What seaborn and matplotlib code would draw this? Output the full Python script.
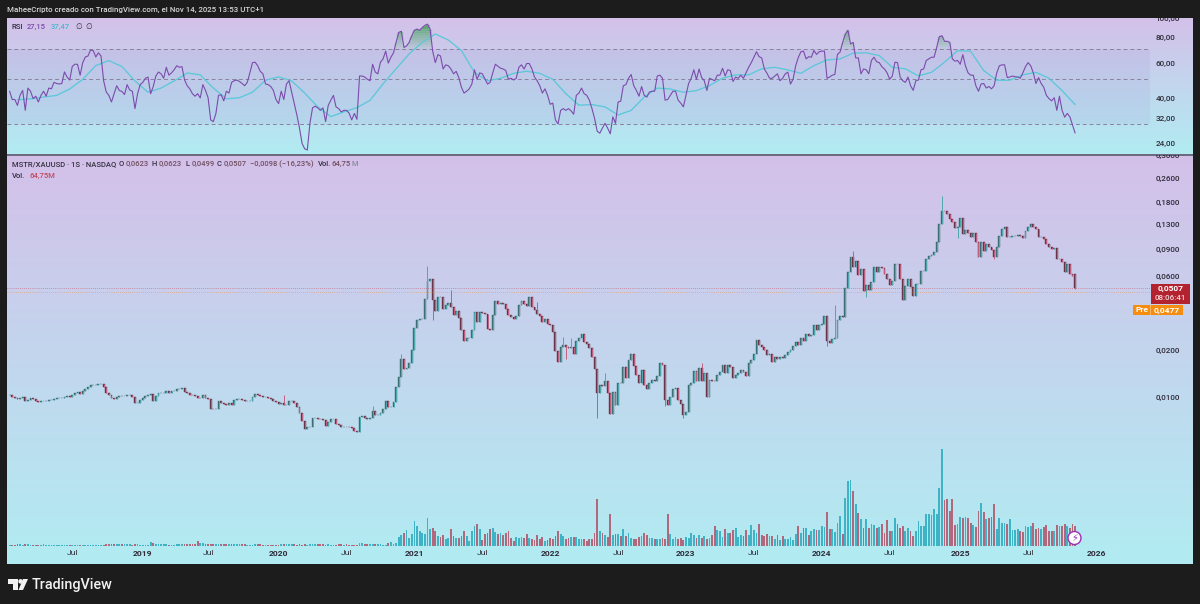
import numpy as np
import pandas as pd
import matplotlib
matplotlib.use('Agg')
import matplotlib.pyplot as plt
import seaborn as sns
from matplotlib.patches import Rectangle, Ellipse, Polygon
from matplotlib.ticker import NullLocator

# weekly closes of MSTR/XAUUSD
closes = [
    .01025,.01005,.00985,.00966,.00985,.01005,.00947,.00957,.00985,.00966,
    .00947,.00929,.00938,.00947,.00947,.00957,.00957,.00966,.00980,.00985,
    .00985,.01005,.01015,.00995,.01035,.01056,.01077,.01045,.01087,.01131,
    .01165,.01189,.01189,.01200,.01212,.01212,.01153,.01066,.01025,.00985,
    .00976,.01005,.01015,.01010,.01015,.01025,.01035,.01005,.00911,.00920,.00957,
    .00985,.01015,.01035,.01045,.00938,.01015,.01056,.01056,.01066,.01098,
    .01066,.01087,.01087,.01120,.01131,.01142,.01077,.01056,.01035,.01025,
    .01015,.00985,.00985,.01035,.00985,.00966,.00841,.00833,.00841,.00938,
    .00911,.00902,.00893,.00911,.00893,.00957,.00966,.00966,.00957,.00947,
    .00947,.00947,.00995,.01045,.01035,.01015,.01005,.01005,.00985,.00966,.00947,
    .00929,.00902,.00911,.00893,.00893,.00938,.00947,.00920,.00858,.00793,
    .00697,.00620,.00644,.00644,.00732,.00732,.00725,.00718,.00711,.00651,
    .00690,.00718,.00718,.00670,.00657,.00644,.00644,.00640,.00638,.00632,.00607,
    .00595,.00747,.00755,.00732,.00718,.00730,.00809,.00762,.00762,.00785,
    .00841,.00938,.00858,.00858,.00933,.01165,.0135,
    .0175,.0151,.0155,.0167,.0201,.0281,.0313,.0321,.0321,.0431,
    .0558,.0580,.0421,.0358,.0446,.0442,.0372,.0396,.0407,.0381,
    .0337,.0362,.0326,.0273,.0230,.0239,.0242,.0270,.0354,.0305,
    .0354,.0348,.0342,.0274,.0270,.0337,.0415,.0400,.0405,.0400,.0372,
    .0337,.0329,.0321,.0332,.0396,.0417,.0400,.0390,.0442,.0381,
    .0367,.0345,.0332,.0305,.0321,.0298,.0291,.0263,.0199,.0169,
    .0211,.0218,.0211,.0206,.0211,.0191,.0230,.0239,.0257,.0227,
    .0221,.0206,.0182,.0151,.0106,.0119,.0117,.0126,.0106,.0078,
    .0108,.0089,.0124,.0123,.0157,.0132,.0173,.0191,.0158,.0139,
    .0124,.0149,.0119,.0112,.0124,.0129,.0126,.0137,.0166,.0161,
    .0096,.0089,.0100,.0112,.0114,.0096,.0090,.0076,.0080,.0119,
    .0123,.0148,.0126,.0153,.0126,.0142,.0100,.0129,.0127,.0126,.0139,
    .0146,.0161,.0142,.0161,.0157,.0132,.0139,.0142,.0149,.0146,
    .0137,.0165,.0173,.0191,.0233,.0216,.0211,.0200,.0186,.0191,.0169,
    .0180,.0175,.0180,
    .0178,.0186,.0195,.0201,.0213,.0226,.0216,.0240,
    .0231,.0254,.0248,.0250,.0291,.0270,.0291,.0295,.0332,.0231,
    .0224,.0236,.0241,.0313,.0336,.0329,.0508,.0640,.0806,.0690,
    .0752,.0610,.0672,.0481,.0526,.0493,.0552,.0696,.0640,.0696,
    .0682,.0625,.0580,.0526,.0566,.0725,.0719,.0580,.0421,.0518,
    .0580,.0512,.0447,.0538,.0538,.0650,.0656,.0780,.0818,.0832,
    .0861,.1002,.1312,.1600,.1593,.1522,.1410,.1347,.1236,.1257,
    .1433,.1133,.1201,.1143,.1075,.1143,.1002,.0806,.1002,.0882,
    .0974,.0926,.0892,.0800,.0936,.1090,.1215,.1257,.1085,.1085,
    .1101,.1105,.1112,.1090,.1065,.1189,.1257,.1312,.1257,.1215,.1075,
    .1075,.1050,.0974,.0926,.0904,.0917,.0780,.0780,.0742,.0640,
    .0719,.0625,.0605,.0507,
]

# only the wicks that stick out enough to see: week number -> price
wick_highs = {105: .0103, 139: .00875, 150: .0191, 160: .0700, 169: .0493, 202: .0411,
              212: .0246, 215: .0239, 228: .0143, 265: .0165, 316: .0391, 323: .0882,
              357: .199, 408: .0623}
wick_lows = {162: .0313, 213: .0175, 225: .0073, 251: .0087, 258: .0073, 313: .0213,
             328: .0443, 363: .1065, 371: .0800, 377: .0775, 408: .0499}
last_open = .0623

# RSI
rsi_values = [
    43.6,39.7,39.7,37.1,41.6,44,35.1,45.2,43.6,40.1,
    41.2,38.6,41.6,43.6,41.2,45.2,44.8,48.2,47.6,47.3,
    47.6,54.3,51.2,49.5,57.8,59.2,59.2,52.3,60.3,64.3,
    65,69.5,69.2,64.3,67.4,65,49.1,43.2,41.6,38.6,
    42.4,46.4,44,43.5,42,47,44.2,43.6,35.8,42.4,47,
    48.2,50.5,51.2,42.4,46,51.8,54.2,53.1,50.5,57.2,
    52.3,53.7,55.6,58.2,57.2,57.6,49.5,46.4,44.8,42.4,
    41.2,42.4,40.4,47,44,40.5,31.5,30.9,33.9,41.6,
    41.9,39.1,43.6,42.7,48.2,49.1,49.5,48.7,47.6,46.4,
    48.2,53.7,60.3,60.6,58.2,54.6,53.1,47.3,47,46,44,
    39.7,37.9,43.6,39.7,47.3,49.1,43.2,37.9,33.3,28.7,
    24.1,22.7,22.4,30.3,36.1,36.8,36.1,35.1,36.1,30.9,
    37.1,39.4,41.6,36.5,35.8,34.5,35.1,35.1,34,31.5,33.9,
    31.7,51.8,51.8,51.2,49.9,49.1,59.2,54.2,53.1,60.6,
    62.9,68.7,60,64.1,67.4,75.9,84.9,
    86,71.6,72.9,75.9,81.8,87,88.2,87,89.7,92,
    93.3,88.2,68.7,60.3,66,65,56.1,58.8,58.2,56.1,
    53.1,54.6,50.9,45.6,42.7,43.6,44.8,47.3,55.6,49.9,
    53.7,53.1,50.2,47.3,48.2,53.7,59.2,57.8,56.6,56.1,55.1,
    49.9,50.5,49.5,50.5,57.2,58.8,56.1,59.7,59.7,56.1,
    51.2,49.1,46.4,42.7,44.8,41.6,37.6,38.1,31.5,30.1,
    35.1,35.8,35.1,35.8,34.9,33.6,41.6,42.7,45.2,42.4,
    41.6,39.4,35.8,32,27.7,27.1,28.7,30.3,28.7,26.9,
    32.6,30.3,38.6,38.9,46.4,47,50.5,52.7,46.4,44,
    41.2,46,41.6,40.8,43.2,43.6,43.6,51.8,52.3,50.5,
    39.4,39.7,41.6,43.6,43.6,39.4,38.1,36.5,41.6,47.6,
    50.5,55.6,49.9,56.1,50.9,49.1,44,50.5,49.8,49.1,52.3,
    52.3,56.6,51.8,55.6,55.1,48.7,51.2,50.5,52.3,50.5,
    53.7,57.2,60.3,64.1,68.2,64.5,63.6,56.1,53.5,50.5,50.5,
    51.8,53.1,49.1,
    50.5,53.1,54.1,47.3,49.9,58.2,63.9,68.2,
    68.7,62.9,64.5,64.1,69.2,66.2,68.2,68.7,68.7,50.5,
    51.2,52.3,52.7,66.2,68,75.9,83.3,87,74.5,75.9,
    63.6,63.6,53.1,56.1,55.6,53.1,61.8,64.1,60.9,60.3,
    57.6,56.1,53.7,49.9,51.8,60.6,60.3,51.2,49.1,48.2,
    51.2,46.4,44,49.1,49.5,55.6,56.1,61.8,62.9,64.1,
    64.1,71.6,80.9,81.8,76.8,76.8,75.9,62.9,61.3,61.8,
    59.2,66,58.2,53.7,52.3,52.3,46.4,43.6,47.3,47.6,
    45.2,46,44.8,46.4,53.7,58.2,58.8,58.8,50.9,51.2,
    51.8,51.4,51.2,50.5,53.7,57.6,60.3,58.2,53.7,47.6,50.9,
    47.6,45.6,41.6,40.1,39.1,40.5,35.1,41.2,35.1,32.5,
    33.9,32.6,29.8,27.15,
]

# RSI moving average, read every fifth week counted back from the last one
rsi_ma_values = [
    39.6,40,40.8,41.6,44.7,49.9,58.3,61.7,57.7,49,
    43.1,45.2,49,53.6,52.5,45.2,40,40.5,43.1,49.4,
    51.3,49,42.7,36.5,32.7,34.5,36.2,39.3,47.4,56.2,
    66.6,75.9,83.4,77.9,69.1,54,49,50.5,53.4,54.7,
    53.4,49.9,42.4,37.2,37.5,36.5,33.3,35.1,40.8,45.2,
    44.7,43.1,43.9,46.5,50.5,52.5,52.5,56.2,57.2,55.5,
    53.4,58.3,62.2,62.9,67.1,67.4,65.3,57.2,56.2,51.9,
    54,60.6,69.1,68.6,55.1,49.4,49.4,52.5,54,50.5,
    43.9,37.47,
]

# volume in millions
volumes = [
    4,3,4,5,5,3,6,7,4,4,
    3,4,4,5,4,4,3,3,4,3,
    4,3,3,4,3,3,2,2,2,4,
    4,4,3,3,3,3,4,5,5,5,
    5,6,7,6,6,5,5,4,5,5,4,
    4,4,4,13,9,8,7,6,7,5,
    4,3,4,7,5,5,6,5,5,7,
    6,15,10,9,8,6,5,7,8,7,
    7,6,6,7,7,6,6,6,5,6,
    4,4,4,6,5,5,3,4,3,4,3,
    3,3,5,6,7,8,8,7,4,5,
    4,5,4,5,5,5,6,6,5,4,
    5,4,4,4,5,5,3,5,4,3,3,
    4,9,9,7,5,6,5,8,7,6,
    4,4,11,13,6,11,30,
    37,43,52,27,38,81,65,49,41,38,
    92,54,59,49,32,30,35,22,27,54,
    32,26,27,32,49,32,16,49,65,70,
    54,19,39,41,54,57,45,39,41,36,
    43,50,27,16,30,26,30,27,38,27,
    24,19,36,22,28,16,19,26,22,32,
    49,38,32,22,26,30,30,30,24,22,
    24,16,22,24,41,151,49,43,36,30,
    103,36,39,38,32,54,32,41,26,22,
    24,30,32,43,36,26,25,24,22,24,26,
    24,103,38,24,30,24,27,19,30,26,
    41,37,27,35,26,32,22,27,37,65,
    52,49,30,54,43,41,52,57,30,36,
    32,52,36,67,52,43,70,36,32,38,
    32,32,24,36,19,
    32,24,24,30,19,38,65,43,
    59,59,35,49,56,52,52,65,63,110,
    54,54,45,76,97,38,157,211,213,178,
    135,106,89,59,89,59,70,67,59,63,
    70,43,84,49,49,92,70,59,65,49,
    59,49,32,49,81,65,65,103,105,99,
    121,103,189,313,149,151,113,153,67,70,
    95,92,95,92,73,67,60,113,138,110,
    89,92,95,137,56,92,73,76,70,86,
    51,52,54,48,45,65,63,65,73,54,
    59,54,63,67,49,49,49,67,65,65,
    71,65,59,70,64.75,
]

rsi_ticks = [100, 80, 60, 40, 32, 24]
rsi_tick_labels = ['100,00', '80,00', '60,00', '40,00', '32,00', '24,00']
rsi_levels = [70, 50, 30]
price_ticks = [.366, .26, .18, .13, .09, .06, .02, .01]
price_tick_labels = ['0,3000', '0,2600', '0,1800', '0,1300', '0,0900', '0,0600', '0,0200', '0,0100']
date_ticks = ['2018-07-02', '2019-01-07', '2019-07-01', '2020-01-06', '2020-07-06', '2021-01-04',
              '2021-07-05', '2022-01-03', '2022-07-04', '2023-01-02', '2023-07-03', '2024-01-01',
              '2024-07-01', '2025-01-06', '2025-07-07', '2026-01-05']
date_tick_labels = ['Jul', '2019', 'Jul', '2020', 'Jul', '2021', 'Jul', '2022', 'Jul', '2023', 'Jul',
                    '2024', 'Jul', '2025', 'Jul', '2026']
last_close = .0507
pre_price = .0477

dates = pd.date_range(end='2025-11-10', periods=len(closes), freq='7D')
df = pd.DataFrame({'date': dates, 'close': closes, 'rsi': rsi_values, 'vol': volumes})
df['open'] = df['close'].shift(1).fillna(df['close'])
df.loc[df.index[-1], 'open'] = last_open
df['high'] = df[['open', 'close']].max(axis=1)
df['low'] = df[['open', 'close']].min(axis=1)
for i, v in wick_highs.items():
    df.loc[i, 'high'] = v
for i, v in wick_lows.items():
    df.loc[i, 'low'] = v
up = df['close'] >= df['open']
ma_dates = dates[::-5][::-1]

sns.set_theme(style='white')
plt.rcParams['font.family'] = ['Roboto', 'DejaVu Sans']

W, H = 1200, 604
fig = plt.figure(figsize=(12, 6.04), dpi=100, facecolor='#1c1c1c')


def box(x0, y0, x1, y1):
    return [x0 / W, 1 - y1 / H, (x1 - x0) / W, (y1 - y0) / H]


def label(x, y, s, color='#33303f', size=5.5, **kw):
    kw.setdefault('fontweight', 'medium')
    fig.text(x / W, 1 - y / H, s, color=color, fontsize=size, va='center', **kw)


def rect(x0, y0, x1, y1, color):
    fig.add_artist(Rectangle((x0 / W, 1 - y1 / H), (x1 - x0) / W, (y1 - y0) / H, transform=fig.transFigure,
                             facecolor=color, edgecolor='none', zorder=2))


# pane backgrounds
grad = np.linspace(0, 1, 256)[:, None]
top_col = np.array([212, 192, 233]) / 255
bot_col = np.array([177, 236, 242]) / 255
grad_img = (top_col * (1 - grad) + bot_col * grad)[:, None, :]
for pane in [box(7, 18, 1193, 154), box(7, 155, 1193, 564)]:
    bg = fig.add_axes(pane, zorder=0)
    bg.imshow(grad_img, aspect='auto')
    bg.axis('off')

x_left = dates[-1] - pd.Timedelta(days=2863)
x_right = dates[-1] + pd.Timedelta(days=316)
band_end = (1150 - 7) / (1193 - 7)

# RSI pane
ax_rsi = fig.add_axes(box(7, 18, 1193, 154), zorder=3, facecolor='none')
ax_rsi.set_yscale('log')
ax_rsi.axhspan(30, 70, xmin=0, xmax=band_end, color='#7e57c2', alpha=0.08, lw=0)
for lev in rsi_levels:
    ax_rsi.axhline(lev, xmin=0, xmax=band_end, color='#8a829c', lw=0.7, ls=(0, (4, 3)))
rsi_arr = df['rsi'].to_numpy()
# green fill over 70, getting stronger towards the top
for lo, a in zip(np.arange(70, 94, 2), np.linspace(0.08, 0.8, 12)):
    ax_rsi.fill_between(dates, lo, np.clip(rsi_arr, lo, lo + 2), where=rsi_arr > lo, color='#2fa04a',
                        alpha=a, lw=0, interpolate=True)
sns.lineplot(x=ma_dates, y=rsi_ma_values, ax=ax_rsi, color='#5cc8da', lw=0.95, errorbar=None)
sns.lineplot(data=df, x='date', y='rsi', ax=ax_rsi, color='#7c4bab', lw=0.8, errorbar=None)
ax_rsi.set_xlim(x_left, x_right)
ax_rsi.set_ylim(21.4, 99.1)
ax_rsi.set_xticks([])
ax_rsi.set_xlabel('')
ax_rsi.set_ylabel('')
ax_rsi.yaxis.tick_right()
ax_rsi.yaxis.set_minor_locator(NullLocator())
ax_rsi.set_yticks(rsi_ticks)
ax_rsi.set_yticklabels(rsi_tick_labels)
ax_rsi.tick_params(axis='y', length=0, pad=-27, labelsize=5.9, labelcolor='#2f2c3a')
for t in ax_rsi.get_yticklabels():
    t.set_clip_on(True)
    t.set_clip_box(ax_rsi.bbox)
    t.set_fontweight('medium')
sns.despine(ax=ax_rsi, left=True, bottom=True, right=True, top=True)

# volume goes under the candles, on its own scale
ax_vol = fig.add_axes(box(7, 155, 1193, 564), zorder=1, facecolor='none')
ax_vol.bar(df['date'], df['vol'], width=4.8, color=np.where(up, '#3fb3c6', '#b0697c'), lw=0)
ax_vol.set_xlim(x_left, x_right)
ax_vol.set_ylim(-58.3, 1267)
ax_vol.axis('off')

# price pane
ax = fig.add_axes(box(7, 155, 1193, 564), zorder=2, facecolor='none')
ax.set_yscale('log')
ax.axhline(last_close, xmin=0, xmax=band_end, color='#c4323f', lw=0.5, alpha=0.8, ls=(0, (1, 2)))
ax.axhline(pre_price, xmin=0, xmax=band_end, color='#f28c28', lw=0.5, alpha=0.8, ls=(0, (1, 2)))
ax.vlines(df['date'], df['low'], df['high'], colors=np.where(up, '#4fa9af', '#c0607e'), lw=0.7)
body_lo = df[['open', 'close']].min(axis=1)
body_hi = df[['open', 'close']].max(axis=1)
body_col = np.where(up, '#3a6f74', '#6b3348')
ax.bar(df['date'], body_hi - body_lo, bottom=body_lo, width=5.0, color=body_col, edgecolor=body_col, lw=0.3)
ax.set_xlim(x_left, x_right)
ax.set_ylim(.000833, .3664)
ax.yaxis.tick_right()
ax.yaxis.set_minor_locator(NullLocator())
ax.set_yticks(price_ticks)
ax.set_yticklabels(price_tick_labels)
ax.tick_params(axis='y', length=0, pad=-27, labelsize=5.9, labelcolor='#2f2c3a')
for t in ax.get_yticklabels():
    t.set_clip_on(True)
    t.set_clip_box(ax.bbox)
    t.set_fontweight('medium')
ax.set_xticks(pd.to_datetime(date_ticks))
ax.set_xticklabels(date_tick_labels)
ax.tick_params(axis='x', length=0, pad=-10, labelsize=6.1, labelcolor='#2f2c3a')
for t in ax.get_xticklabels():
    if t.get_text() != 'Jul':
        t.set_fontweight('bold')
sns.despine(ax=ax, left=True, bottom=True, right=True, top=True)

# pane divider
rect(7, 154, 1193, 155.6, '#6d6a80')

# header and legends
label(7, 10, 'MaheeCripto creado con TradingView.com, el Nov 14, 2025 13:53 UTC+1', color='#d6d6d6', size=5.65)
label(12, 27, 'RSI')
label(27, 27, '27,15', color='#7c4bab')
label(51, 27, '37,47', color='#45b8cf')
label(75, 27, '∅')
label(85, 27, '∅')
label(12, 164, 'MSTR/XAUUSD · 1S · NASDAQ')
val_col = '#6f5060'
for x, key, val in [(119, 'O', '0,0623'), (152, 'H', '0,0623'), (185, 'L', '0,0499'), (217, 'C', '0,0507')]:
    label(x, 164, key)
    label(x + 6.5, 164, val, color=val_col)
label(250, 164, '−0,0098 (−16,23%)', color=val_col)
label(318, 164, 'Vol.')
label(331, 164, '64,75', color=val_col)
label(351, 164, 'M', color='#8a8a9a')
label(12, 176, 'Vol.')
label(30, 176, '64,75M', color='#c0485e')

# last price tags
rect(1151, 283.5, 1190, 304, '#b3222f')
label(1170.5, 289, '0,0507', color='white', size=6.0, ha='center', fontweight='bold')
label(1170.5, 298.5, '08:06:41', color='#f3d6d8', size=5.8, ha='center')
rect(1133, 304.5, 1183, 315, '#f68c10')
rect(1150, 304.5, 1150.6, 315, '#f9b45e')
label(1141.5, 310, 'Pre', color='white', size=6.0, ha='center', fontweight='bold')
label(1166.5, 310, '0,0477', color='white', size=6.0, ha='center', fontweight='bold')

# flash badge on the last bar
fig.add_artist(Ellipse((1074.5 / W, 1 - 538 / H), 13 / W, 13 / H, transform=fig.transFigure,
                       facecolor='white', edgecolor='#9c30b5', lw=1.0, zorder=3))
label(1074.5, 538, '⚡', color='#9c30b5', size=7, ha='center', family='DejaVu Sans', zorder=4)

# TradingView logo
for pts in [[(8, 579), (18, 579), (18, 590), (13, 590), (13, 584), (8, 584)],
            [(23, 579), (28, 579), (23, 590), (18.5, 590)]]:
    fig.add_artist(Polygon([(x / W, 1 - y / H) for x, y in pts], closed=True, transform=fig.transFigure,
                           facecolor='#f2f2f2', edgecolor='none'))
fig.add_artist(Ellipse((20.6 / W, 1 - 581.4 / H), 4.6 / W, 4.6 / H, transform=fig.transFigure,
                       facecolor='#f2f2f2', edgecolor='none'))
label(32, 584.5, 'TradingView', color='#f2f2f2', size=10.4)

fig.savefig('out.png', dpi=100, facecolor=fig.get_facecolor())
